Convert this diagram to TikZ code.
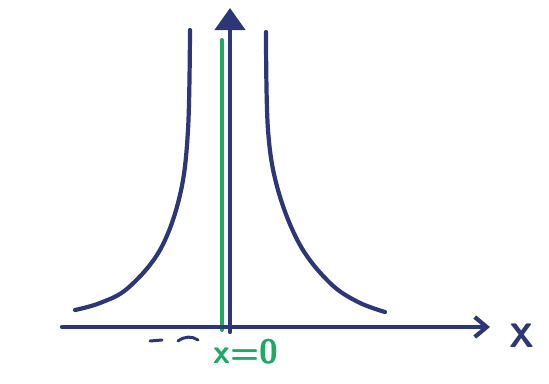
\documentclass[tikz,border=0pt]{standalone}
\usetikzlibrary{arrows.meta}
\definecolor{ink}{RGB}{45,55,120}
\definecolor{grn}{RGB}{30,170,100}
\tikzset{
  pen/.style={draw=ink, line width=4.2pt, line cap=round, line join=round},
  asym/.style={draw=grn, line width=4pt, line cap=round},
  lbl/.style={font=\sffamily\bfseries\fontsize{34}{34}\selectfont, inner sep=0pt},
}
\begin{document}
\begin{tikzpicture}[x=1pt,y=-1pt]
\useasboundingbox (0,0) rectangle (549,383);
\fill[white] (0,0) rectangle (549,383);
% coordinates
\coordinate (xl) at (62,327);
\coordinate (xr) at (490,327);
\coordinate (yb) at (230,332);
\coordinate (yt) at (230,8);
\coordinate (gb) at (222,330);
\coordinate (gt) at (222,40);
% asymptote
\draw[asym] (gb) -- (gt);
% axes
\draw[pen, -{Straight Barb[length=12pt,width=20pt]}] (xl) -- (xr);
\draw[pen, -{Triangle[length=22pt,width=30pt]}] (yb) -- (yt);
% curves
\draw[pen] plot[smooth, tension=0.6] coordinates {(190,30) (188,130) (180,195) (160,250) (128,288) (100,303) (75,310)};
\draw[pen] plot[smooth, tension=0.6] coordinates {(266,32) (268,130) (278,190) (300,245) (330,283) (358,302) (385,312)};
% dashes
\draw[pen, line width=3pt] (150,341) -- (162,340);
\draw[pen, line width=3pt] (178,341) .. controls (185,336) and (192,336) .. (198,340);
% labels
\node[lbl, text=grn] (eq) at (246,352) {x=0};
\node[lbl, text=ink] (X) at (522,336) {X};
\end{tikzpicture}
\end{document}
